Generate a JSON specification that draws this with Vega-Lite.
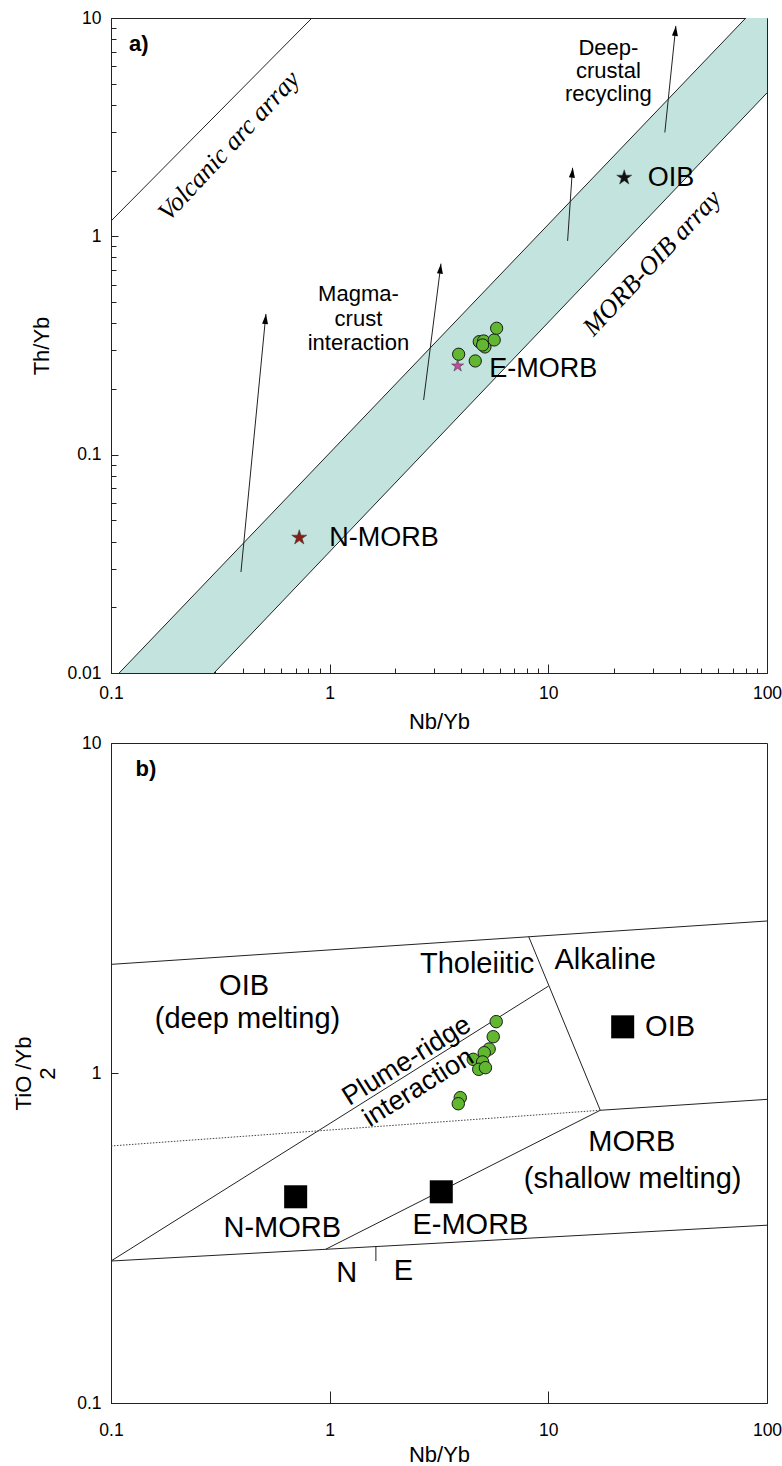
{
  "$schema": "https://vega.github.io/schema/vega-lite/v6.json",
  "background": "white",
  "padding": {"left": 12, "top": 8, "right": 5, "bottom": 3},
  "bounds": "flush",
  "spacing": 70,
  "config": {
    "view": {"stroke": "#222222", "strokeWidth": 1},
    "font": "Liberation Sans",
    "text": {"font": "Liberation Sans", "color": "black"},
    "axis": {
      "domainColor": "#222222", "domainWidth": 1, "tickColor": "#222222", "tickWidth": 1,
      "labelColor": "black", "labelFont": "Liberation Sans", "labelFontSize": 17.5,
      "titleFont": "Liberation Sans", "titleFontSize": 22, "titleFontWeight": "normal", "titleColor": "black",
      "grid": false, "labelFlush": false, "labelOverlap": false
    }
  },
  "resolve": {"scale": {"x": "independent", "y": "independent"}},
  "datasets": {
    "bandA": [
      {"x": 0.109, "y": 0.01, "y2": 0.01},
      {"x": 0.296, "y": 0.02846, "y2": 0.01},
      {"x": 80, "y": 10, "y2": 3.59},
      {"x": 100, "y": 10, "y2": 4.54}
    ],
    "linesA": [
      {"seg": "arc", "x": 0.1, "y": 1.175}, {"seg": "arc", "x": 0.83, "y": 10},
      {"seg": "up", "x": 0.109, "y": 0.01}, {"seg": "up", "x": 80, "y": 10},
      {"seg": "lo", "x": 0.296, "y": 0.01}, {"seg": "lo", "x": 100, "y": 4.54},
      {"seg": "a1", "x": 0.393, "y": 0.029}, {"seg": "a1", "x": 0.511, "y": 0.441},
      {"seg": "a2", "x": 2.69, "y": 0.178}, {"seg": "a2", "x": 3.23, "y": 0.75},
      {"seg": "a3", "x": 12.25, "y": 0.953}, {"seg": "a3", "x": 12.9, "y": 2.06},
      {"seg": "a4", "x": 34.1, "y": 2.99}, {"seg": "a4", "x": 38.3, "y": 9.2}
    ],
    "headsA": [
      {"arrow": "a1", "x": 0.509, "y": 0.418},
      {"arrow": "a2", "x": 3.21, "y": 0.711},
      {"arrow": "a3", "x": 12.88, "y": 1.958},
      {"arrow": "a4", "x": 38.12, "y": 8.73}
    ],
    "samplesA": [
      {"x": 3.889, "y": 0.2884}, {"x": 4.633, "y": 0.2687}, {"x": 4.831, "y": 0.3293},
      {"x": 5.061, "y": 0.3317}, {"x": 5.13, "y": 0.3114}, {"x": 5.656, "y": 0.3353},
      {"x": 5.802, "y": 0.3793}, {"x": 5.006, "y": 0.318}
    ],
    "refA": [
      {"name": "OIB", "x": 22.24, "y": 1.857},
      {"name": "N-MORB", "x": 0.726, "y": 0.0417},
      {"name": "E-MORB", "x": 3.848, "y": 0.255}
    ],
    "labelsA": [
      {"group": "big", "text": "OIB", "x": 28.45, "y": 1.845},
      {"group": "big", "text": "E-MORB", "x": 5.37, "y": 0.2462},
      {"group": "big", "text": "N-MORB", "x": 0.996, "y": 0.0417},
      {"group": "small", "text": "Magma-", "x": 1.354, "y": 0.543},
      {"group": "small", "text": "crust", "x": 1.354, "y": 0.417},
      {"group": "small", "text": "interaction", "x": 1.354, "y": 0.3238},
      {"group": "small", "text": "Deep-", "x": 18.83, "y": 7.3},
      {"group": "small", "text": "crustal", "x": 18.83, "y": 5.72},
      {"group": "small", "text": "recycling", "x": 18.83, "y": 4.49},
      {"group": "italic", "text": "Volcanic arc array", "x": 0.3464, "y": 2.596},
      {"group": "italic", "text": "MORB-OIB array", "x": 29.77, "y": 0.7553},
      {"group": "bold", "text": "a)", "x": 0.1209, "y": 7.61}
    ],
    "linesB": [
      {"seg": "top", "x": 0.1, "y": 2.134}, {"seg": "top", "x": 100, "y": 2.888},
      {"seg": "div", "x": 8.13, "y": 2.59}, {"seg": "div", "x": 17.28, "y": 0.771},
      {"seg": "pr", "x": 0.1, "y": 0.2693}, {"seg": "pr", "x": 10.03, "y": 1.835},
      {"seg": "mlr", "x": 17.28, "y": 0.771}, {"seg": "mlr", "x": 100, "y": 0.832},
      {"seg": "em", "x": 0.959, "y": 0.2923}, {"seg": "em", "x": 17.28, "y": 0.771},
      {"seg": "bot", "x": 0.1, "y": 0.2693}, {"seg": "bot", "x": 100, "y": 0.3458},
      {"seg": "tick", "x": 1.627, "y": 0.2981}, {"seg": "tick", "x": 1.6271, "y": 0.2693}
    ],
    "dottedB": [
      {"x": 0.1, "y": 0.601}, {"x": 17.28, "y": 0.771}
    ],
    "squaresB": [
      {"name": "N-MORB", "x": 0.699, "y": 0.4216},
      {"name": "E-MORB", "x": 3.239, "y": 0.4365},
      {"name": "OIB", "x": 21.88, "y": 1.38}
    ],
    "samplesB": [
      {"x": 5.776, "y": 1.431}, {"x": 5.598, "y": 1.288}, {"x": 5.361, "y": 1.182},
      {"x": 5.092, "y": 1.152}, {"x": 4.536, "y": 1.1}, {"x": 5.007, "y": 1.08},
      {"x": 4.806, "y": 1.026}, {"x": 5.157, "y": 1.038}, {"x": 3.957, "y": 0.842},
      {"x": 3.874, "y": 0.807}
    ],
    "labelsB": [
      {"group": "big", "text": "OIB", "x": 0.406, "y": 1.834},
      {"group": "big", "text": "(deep melting)", "x": 0.421, "y": 1.455},
      {"group": "big", "text": "Tholeiitic", "x": 4.725, "y": 2.135},
      {"group": "big", "text": "Alkaline", "x": 18.2, "y": 2.2},
      {"group": "big", "text": "MORB", "x": 24.1, "y": 0.619},
      {"group": "big", "text": "(shallow melting)", "x": 24.3, "y": 0.4773},
      {"group": "big", "text": "N-MORB", "x": 0.607, "y": 0.3398},
      {"group": "big", "text": "E-MORB", "x": 4.404, "y": 0.3458},
      {"group": "big", "text": "N", "x": 1.198, "y": 0.2482},
      {"group": "big", "text": "E", "x": 2.173, "y": 0.2512},
      {"group": "left", "text": "OIB", "x": 27.7, "y": 1.381},
      {"group": "rot", "text": "Plume-ridge", "x": 2.252, "y": 1.0874},
      {"group": "rot", "text": "interaction", "x": 2.544, "y": 0.9027},
      {"group": "bold", "text": "b)", "x": 0.1294, "y": 8.34}
    ]
  },
  "vconcat": [
    {
      "width": 656,
      "height": 655,
      "encoding": {
        "x": {
          "field": "x", "type": "quantitative",
          "scale": {"type": "log", "domain": [0.1, 100], "nice": false},
          "axis": {
            "title": "Nb/Yb",
            "titleFontSize": 22,
            "labelFontSize": 17.5,
            "values": [0.1, 0.2, 0.3, 0.4, 0.5, 0.6, 0.7, 0.8, 0.9, 1, 2, 3, 4, 5, 6, 7, 8, 9, 10, 20, 30, 40, 50, 60, 70, 80, 90, 100],
            "format": "~g",
            "labelExpr": "abs(log(datum.value)/LN10 - round(log(datum.value)/LN10)) < 0.000001 ? datum.label : ''",
            "tickSize": {"condition": {"test": "abs(log(datum.value)/LN10 - round(log(datum.value)/LN10)) < 0.000001", "value": -9}, "value": -5},
            "labelPadding": 20,
            "titlePadding": 6
          }
        },
        "y": {
          "field": "y", "type": "quantitative",
          "scale": {"type": "log", "domain": [0.01, 10], "nice": false},
          "axis": {
            "title": "Th/Yb",
            "titleFontSize": 22,
            "labelFontSize": 17.5,
            "values": [0.01, 0.02, 0.03, 0.04, 0.05, 0.06, 0.07, 0.08, 0.09, 0.1, 0.2, 0.3, 0.4, 0.5, 0.6, 0.7, 0.8, 0.9, 1, 2, 3, 4, 5, 6, 7, 8, 9, 10],
            "format": "~g",
            "labelExpr": "abs(log(datum.value)/LN10 - round(log(datum.value)/LN10)) < 0.000001 ? datum.label : ''",
            "tickSize": {"condition": {"test": "abs(log(datum.value)/LN10 - round(log(datum.value)/LN10)) < 0.000001", "value": -7}, "value": -5},
            "labelPadding": 17,
            "titlePadding": 13
          }
        }
      },
      "layer": [
        {
          "data": {"name": "bandA"},
          "mark": {"type": "area", "color": "#c2e3de", "clip": true},
          "encoding": {"y2": {"field": "y2"}}
        },
        {
          "data": {"name": "linesA"},
          "mark": {"type": "line", "color": "#222222", "strokeWidth": 1, "clip": true},
          "encoding": {"detail": {"field": "seg", "type": "nominal"}}
        },
        {
          "data": {"name": "headsA"},
          "mark": {"type": "point", "shape": "M0,-1L0.6,1L-0.6,1Z", "filled": true, "color": "black", "opacity": 1, "size": 100, "angle": 5.5}
        },
        {
          "data": {"name": "samplesA"},
          "mark": {"type": "point", "shape": "circle", "filled": true, "fill": "#62b730", "stroke": "#1a1a1a", "strokeWidth": 1, "size": 150, "opacity": 1}
        },
        {
          "data": {"name": "refA"},
          "mark": {"type": "point", "shape": "M0,-1L0.2245,-0.309L0.951,-0.309L0.363,0.118L0.588,0.809L0,0.382L-0.588,0.809L-0.363,0.118L-0.951,-0.309L-0.2245,-0.309Z", "filled": true, "opacity": 1, "stroke": "#333333", "strokeWidth": 0.5},
          "encoding": {
            "color": {"field": "name", "type": "nominal", "scale": {"domain": ["OIB", "N-MORB", "E-MORB"], "range": ["#111111", "#8a1d12", "#c04c9e"]}, "legend": null},
            "size": {"condition": {"test": "datum.name === 'E-MORB'", "value": 160}, "value": 250}
          }
        },
        {
          "data": {"name": "labelsA"},
          "transform": [{"filter": "datum.group === 'big'"}],
          "mark": {"type": "text", "fontSize": 27, "align": "left", "baseline": "middle"},
          "encoding": {"text": {"field": "text", "type": "nominal"}}
        },
        {
          "data": {"name": "labelsA"},
          "transform": [{"filter": "datum.group === 'small'"}],
          "mark": {"type": "text", "fontSize": 22, "align": "center", "baseline": "middle"},
          "encoding": {"text": {"field": "text", "type": "nominal"}}
        },
        {
          "data": {"name": "labelsA"},
          "transform": [{"filter": "datum.group === 'italic'"}],
          "mark": {"type": "text", "font": "Liberation Serif", "fontStyle": "italic", "fontSize": 26, "align": "center", "baseline": "middle", "angle": -47},
          "encoding": {"text": {"field": "text", "type": "nominal"}}
        },
        {
          "data": {"name": "labelsA"},
          "transform": [{"filter": "datum.group === 'bold'"}],
          "mark": {"type": "text", "fontSize": 22, "fontWeight": "bold", "align": "left", "baseline": "middle"},
          "encoding": {"text": {"field": "text", "type": "nominal"}}
        }
      ]
    },
    {
      "width": 656,
      "height": 660,
      "encoding": {
        "x": {
          "field": "x", "type": "quantitative",
          "scale": {"type": "log", "domain": [0.1, 100], "nice": false},
          "axis": {
            "title": "Nb/Yb",
            "titleFontSize": 22,
            "labelFontSize": 17.5,
            "values": [0.1, 1, 10, 100],
            "format": "~g",
            "tickSize": -12,
            "labelPadding": 30,
            "titlePadding": 6
          }
        },
        "y": {
          "field": "y", "type": "quantitative",
          "scale": {"type": "log", "domain": [0.1, 10], "nice": false},
          "axis": {
            "title": ["TiO /Yb", "2"],
            "titleFontSize": 22,
            "titleLineHeight": 24,
            "labelFontSize": 17.5,
            "values": [0.1, 1, 10],
            "format": "~g",
            "tickSize": -7,
            "labelPadding": 17,
            "titlePadding": 17
          }
        }
      },
      "layer": [
        {
          "data": {"name": "linesB"},
          "mark": {"type": "line", "color": "#222222", "strokeWidth": 1, "clip": true},
          "encoding": {"detail": {"field": "seg", "type": "nominal"}}
        },
        {
          "data": {"name": "dottedB"},
          "mark": {"type": "line", "color": "#444444", "strokeWidth": 1, "strokeDash": [1.5, 1.5], "clip": true},
          "encoding": {}
        },
        {
          "data": {"name": "squaresB"},
          "mark": {"type": "point", "shape": "square", "filled": true, "color": "black", "opacity": 1, "size": 530}
        },
        {
          "data": {"name": "samplesB"},
          "mark": {"type": "point", "shape": "circle", "filled": true, "fill": "#62b730", "stroke": "#1a1a1a", "strokeWidth": 1, "size": 155, "opacity": 1}
        },
        {
          "data": {"name": "labelsB"},
          "transform": [{"filter": "datum.group === 'big'"}],
          "mark": {"type": "text", "fontSize": 29, "align": "center", "baseline": "middle"},
          "encoding": {"text": {"field": "text", "type": "nominal"}}
        },
        {
          "data": {"name": "labelsB"},
          "transform": [{"filter": "datum.group === 'left'"}],
          "mark": {"type": "text", "fontSize": 29, "align": "left", "baseline": "middle"},
          "encoding": {"text": {"field": "text", "type": "nominal"}}
        },
        {
          "data": {"name": "labelsB"},
          "transform": [{"filter": "datum.group === 'rot'"}],
          "mark": {"type": "text", "fontSize": 27, "align": "center", "baseline": "middle", "angle": -32},
          "encoding": {"text": {"field": "text", "type": "nominal"}}
        },
        {
          "data": {"name": "labelsB"},
          "transform": [{"filter": "datum.group === 'bold'"}],
          "mark": {"type": "text", "fontSize": 22, "fontWeight": "bold", "align": "left", "baseline": "middle"},
          "encoding": {"text": {"field": "text", "type": "nominal"}}
        }
      ]
    }
  ]
}
